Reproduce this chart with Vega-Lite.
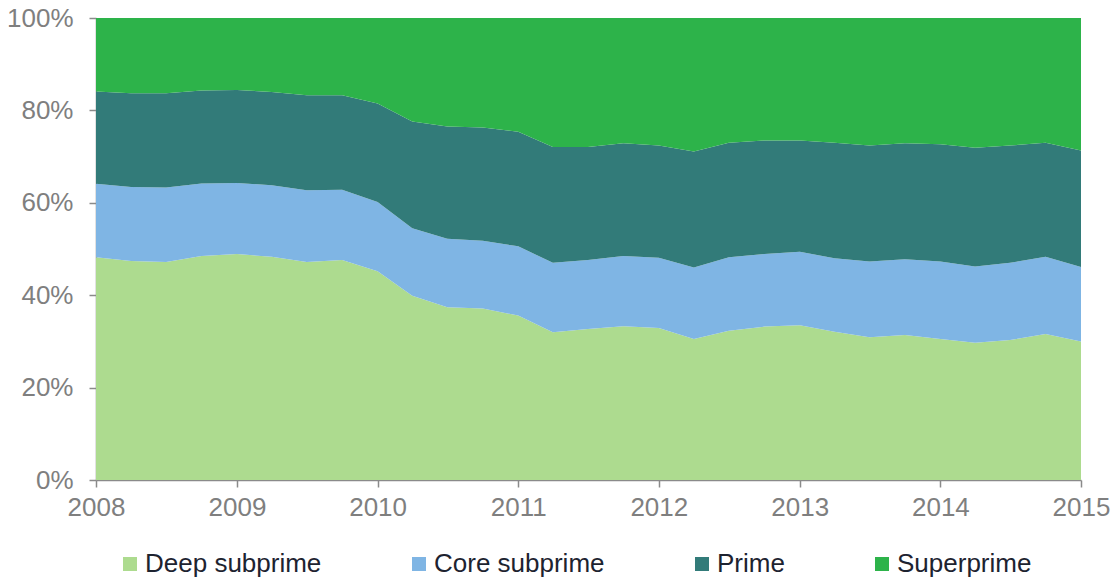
{
  "$schema": "https://vega.github.io/schema/vega-lite/v6.json",
  "width": 985,
  "height": 462,
  "autosize": {"type": "none"},
  "padding": {"left": 96, "top": 18, "right": 32, "bottom": 101},
  "background": "white",
  "config": {
    "view": {"stroke": null},
    "font": "Liberation Sans"
  },
  "data": {
    "values": [
      {"q": "2008-01-01", "Deep subprime": 48.2, "Core subprime": 15.9, "Prime": 20.0, "Superprime": 15.9},
      {"q": "2008-04-01", "Deep subprime": 47.4, "Core subprime": 16.0, "Prime": 20.3, "Superprime": 16.3},
      {"q": "2008-07-01", "Deep subprime": 47.2, "Core subprime": 16.1, "Prime": 20.4, "Superprime": 16.3},
      {"q": "2008-10-01", "Deep subprime": 48.5, "Core subprime": 15.7, "Prime": 20.1, "Superprime": 15.7},
      {"q": "2009-01-01", "Deep subprime": 48.9, "Core subprime": 15.4, "Prime": 20.1, "Superprime": 15.6},
      {"q": "2009-04-01", "Deep subprime": 48.3, "Core subprime": 15.5, "Prime": 20.2, "Superprime": 16.0},
      {"q": "2009-07-01", "Deep subprime": 47.2, "Core subprime": 15.5, "Prime": 20.6, "Superprime": 16.7},
      {"q": "2009-10-01", "Deep subprime": 47.6, "Core subprime": 15.2, "Prime": 20.5, "Superprime": 16.7},
      {"q": "2010-01-01", "Deep subprime": 45.2, "Core subprime": 15.0, "Prime": 21.3, "Superprime": 18.5},
      {"q": "2010-04-01", "Deep subprime": 39.9, "Core subprime": 14.6, "Prime": 23.1, "Superprime": 22.4},
      {"q": "2010-07-01", "Deep subprime": 37.4, "Core subprime": 14.8, "Prime": 24.3, "Superprime": 23.5},
      {"q": "2010-10-01", "Deep subprime": 37.1, "Core subprime": 14.7, "Prime": 24.5, "Superprime": 23.7},
      {"q": "2011-01-01", "Deep subprime": 35.6, "Core subprime": 15.0, "Prime": 24.8, "Superprime": 24.6},
      {"q": "2011-04-01", "Deep subprime": 32.0, "Core subprime": 15.0, "Prime": 25.1, "Superprime": 27.9},
      {"q": "2011-07-01", "Deep subprime": 32.7, "Core subprime": 14.9, "Prime": 24.5, "Superprime": 27.9},
      {"q": "2011-10-01", "Deep subprime": 33.3, "Core subprime": 15.2, "Prime": 24.4, "Superprime": 27.1},
      {"q": "2012-01-01", "Deep subprime": 32.9, "Core subprime": 15.2, "Prime": 24.3, "Superprime": 27.6},
      {"q": "2012-04-01", "Deep subprime": 30.5, "Core subprime": 15.5, "Prime": 25.1, "Superprime": 28.9},
      {"q": "2012-07-01", "Deep subprime": 32.3, "Core subprime": 15.9, "Prime": 24.8, "Superprime": 27.0},
      {"q": "2012-10-01", "Deep subprime": 33.2, "Core subprime": 15.7, "Prime": 24.6, "Superprime": 26.5},
      {"q": "2013-01-01", "Deep subprime": 33.5, "Core subprime": 15.9, "Prime": 24.1, "Superprime": 26.5},
      {"q": "2013-04-01", "Deep subprime": 32.1, "Core subprime": 15.9, "Prime": 25.0, "Superprime": 27.0},
      {"q": "2013-07-01", "Deep subprime": 30.9, "Core subprime": 16.4, "Prime": 25.1, "Superprime": 27.6},
      {"q": "2013-10-01", "Deep subprime": 31.4, "Core subprime": 16.4, "Prime": 25.1, "Superprime": 27.1},
      {"q": "2014-01-01", "Deep subprime": 30.5, "Core subprime": 16.8, "Prime": 25.4, "Superprime": 27.3},
      {"q": "2014-04-01", "Deep subprime": 29.7, "Core subprime": 16.5, "Prime": 25.7, "Superprime": 28.1},
      {"q": "2014-07-01", "Deep subprime": 30.3, "Core subprime": 16.7, "Prime": 25.4, "Superprime": 27.6},
      {"q": "2014-10-01", "Deep subprime": 31.6, "Core subprime": 16.7, "Prime": 24.7, "Superprime": 27.0},
      {"q": "2015-01-01", "Deep subprime": 30.0, "Core subprime": 16.1, "Prime": 25.2, "Superprime": 28.7}
    ]
  },
  "transform": [
    {"fold": ["Deep subprime", "Core subprime", "Prime", "Superprime"], "as": ["segment", "share"]},
    {"window": [{"op": "row_number", "as": "layer"}], "groupby": ["q"]}
  ],
  "mark": {"type": "area", "interpolate": "linear"},
  "encoding": {
    "x": {
      "field": "q",
      "type": "temporal",
      "scale": {"type": "utc", "nice": false, "domain": [{"year": 2008, "month": 1, "date": 1, "utc": true}, {"year": 2015, "month": 1, "date": 1, "utc": true}]},
      "axis": {
        "title": null,
        "format": "%Y",
        "values": [
          {"year": 2008, "utc": true}, {"year": 2009, "utc": true}, {"year": 2010, "utc": true}, {"year": 2011, "utc": true},
          {"year": 2012, "utc": true}, {"year": 2013, "utc": true}, {"year": 2014, "utc": true}, {"year": 2015, "utc": true}
        ],
        "grid": false,
        "domainColor": "#8a8a8a",
        "domainWidth": 1.5,
        "tickColor": "#8a8a8a",
        "tickWidth": 1.5,
        "tickSize": 7,
        "labelFontSize": 26,
        "labelColor": "#7f7f7f",
        "labelPadding": 7,
        "labelFlush": false,
        "labelOverlap": false
      }
    },
    "y": {
      "field": "share",
      "type": "quantitative",
      "stack": "normalize",
      "scale": {"domain": [0, 1], "nice": false},
      "axis": {
        "title": null,
        "format": ".0%",
        "values": [0, 0.2, 0.4, 0.6, 0.8, 1],
        "grid": false,
        "domainColor": "#8a8a8a",
        "domainWidth": 1.5,
        "tickColor": "#8a8a8a",
        "tickWidth": 1.5,
        "tickSize": 7,
        "labelFontSize": 26,
        "labelColor": "#7f7f7f",
        "labelPadding": 16
      }
    },
    "color": {
      "field": "segment",
      "type": "nominal",
      "sort": ["Deep subprime", "Core subprime", "Prime", "Superprime"],
      "scale": {
        "domain": ["Deep subprime", "Core subprime", "Prime", "Superprime"],
        "range": ["#addb8f", "#7fb5e4", "#327b79", "#2db34a"]
      },
      "legend": {
        "title": null,
        "orient": "none",
        "direction": "horizontal",
        "columns": 4,
        "legendX": 21,
        "legendY": 533,
        "symbolType": "square",
        "symbolSize": 196,
        "symbolStrokeWidth": 0,
        "labelFontSize": 26,
        "labelColor": "#1d2330",
        "labelOffset": 2,
        "columnPadding": 84,
        "labelLimit": 400
      }
    },
    "order": {"field": "layer", "type": "quantitative", "sort": "ascending"}
  }
}
